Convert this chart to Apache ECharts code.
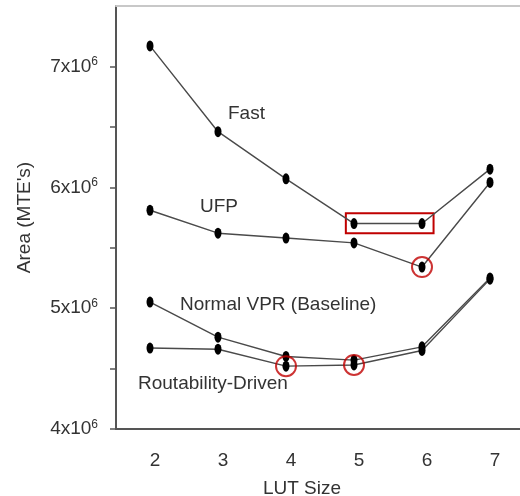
<!DOCTYPE html>
<html>
<head>
<meta charset="utf-8">
<script src="https://cdn.jsdelivr.net/npm/echarts@6/dist/echarts.min.js"></script>
<style>
  html, body { margin: 0; padding: 0; background: #fff; }
  #chart { width: 520px; height: 496px; }
</style>
</head>
<body>
<div id="chart"></div>
<script>
// LUT sizes and area values (MTE's)
const lutSizes = [2, 3, 4, 5, 6, 7]
const fast = [7.17e6, 6.46e6, 6.07e6, 5.70e6, 5.70e6, 6.15e6]
const ufp = [5.81e6, 5.62e6, 5.58e6, 5.54e6, 5.34e6, 6.04e6]
const baseline = [5.05e6, 4.76e6, 4.60e6, 4.57e6, 4.68e6, 5.25e6]
const routability = [4.67e6, 4.66e6, 4.52e6, 4.53e6, 4.65e6, 5.24e6]
// highlighted points (red circles)
const circled = [[6, 5.34e6], [4, 4.52e6], [5, 4.53e6]]
// highlighted range on Fast (red box)
const boxFrom = [4.88, 5.62e6]
const boxTo = [6.17, 5.785e6]

const FONT = 'Liberation Sans'
const ellipse = 'path://M0,5 A3.5,5 0 1,1 7,5 A3.5,5 0 1,1 0,5 Z'

function pairs(vals) {
  return lutSizes.map((x, i) => [x, vals[i]])
}

function lineSeries(name, vals) {
  return {
    name: name,
    type: 'line',
    data: pairs(vals),
    symbol: ellipse,
    symbolSize: [7, 11],
    itemStyle: { color: '#000' },
    lineStyle: { color: '#4a4a4a', width: 1.4 },
    z: 3
  }
}

const chart = echarts.init(document.getElementById('chart'))
chart.setOption({
  animation: false,
  grid: { left: 116, right: -4, top: 6, bottom: 67, outerBoundsMode: 'none', containLabel: false },
  xAxis: [{
    type: 'value',
    min: 1.5,
    max: 7.5,
    interval: 0.5,
    name: 'LUT Size',
    nameLocation: 'middle',
    nameGap: 50,
    nameTextStyle: { fontFamily: FONT, fontSize: 19, color: '#333', padding: [0, 36, 0, 0] },
    axisLine: { show: true, lineStyle: { color: '#555', width: 2 } },
    axisTick: { show: false },
    splitLine: { show: false },
    axisLabel: {
      margin: 22,
      fontFamily: FONT,
      fontSize: 19,
      color: '#333',
      padding: [0, 0, 0, 10],
      showMinLabel: false,
      showMaxLabel: false,
      formatter: v => (v % 1 === 0 ? String(v) : '')
    }
  }, {
    type: 'value',
    position: 'top',
    min: 1.5,
    max: 7.5,
    axisLine: { show: true, lineStyle: { color: '#c8c8c8', width: 2 } },
    axisTick: { show: false },
    axisLabel: { show: false },
    splitLine: { show: false }
  }],
  yAxis: {
    type: 'value',
    min: 4e6,
    max: 7.5e6,
    interval: 0.5e6,
    name: "Area (MTE's)",
    nameLocation: 'middle',
    nameRotate: 90,
    nameGap: 82,
    nameTextStyle: { fontFamily: FONT, fontSize: 19, color: '#333' },
    axisLine: { show: true, lineStyle: { color: '#555', width: 2 } },
    axisTick: { show: true, inside: false, length: 6, lineStyle: { color: '#555', width: 1.5 } },
    splitLine: { show: false },
    axisLabel: {
      margin: 18,
      showMaxLabel: false,
      formatter: v => (v % 1e6 === 0 ? '{a|' + v / 1e6 + 'x10}{s|6}' : ''),
      rich: {
        a: { fontFamily: FONT, fontSize: 19, color: '#333' },
        s: { fontFamily: FONT, fontSize: 12, color: '#333', padding: [0, 0, 9, 0] }
      }
    }
  },
  series: [
    Object.assign(lineSeries('Fast', fast), {
      markArea: {
        silent: true,
        itemStyle: { color: 'rgba(0,0,0,0)', borderColor: '#c00000', borderWidth: 2 },
        data: [[{ coord: boxFrom }, { coord: boxTo }]]
      }
    }),
    lineSeries('UFP', ufp),
    lineSeries('Normal VPR (Baseline)', baseline),
    lineSeries('Routability-Driven', routability),
    {
      type: 'scatter',
      data: circled,
      symbol: 'circle',
      symbolSize: 20,
      itemStyle: { color: 'rgba(0,0,0,0)', borderColor: '#c00000', borderWidth: 2 },
      z: 4
    }
  ],
  graphic: [
    { type: 'text', left: 228, top: 104, style: { text: 'Fast', font: '19px ' + FONT, fill: '#333' } },
    { type: 'text', left: 200, top: 197, style: { text: 'UFP', font: '19px ' + FONT, fill: '#333' } },
    { type: 'text', left: 180, top: 295, style: { text: 'Normal VPR (Baseline)', font: '19px ' + FONT, fill: '#333' } },
    { type: 'text', left: 138, top: 374, style: { text: 'Routability-Driven', font: '19px ' + FONT, fill: '#333' } }
  ]
})
</script>
</body>
</html>
